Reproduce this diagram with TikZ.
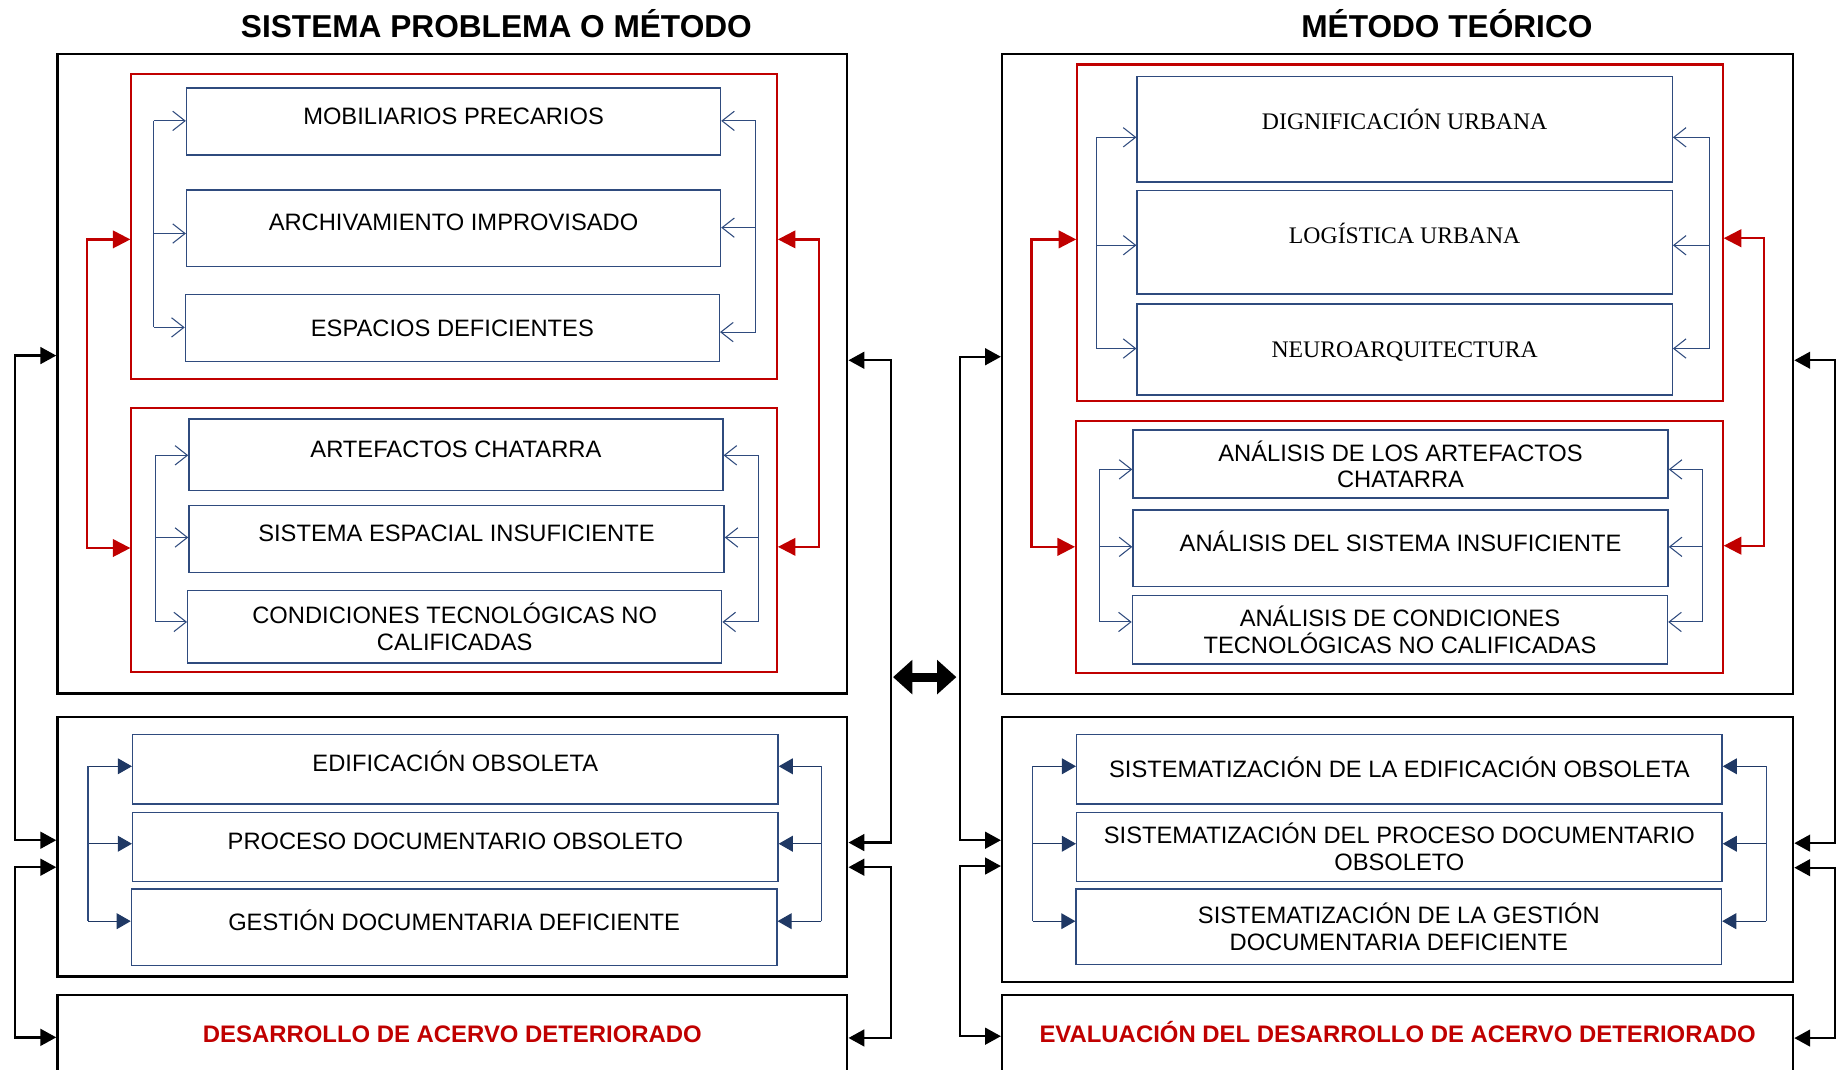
\documentclass[tikz,border=0pt]{standalone}
\usepackage{fontspec}
\setmainfont{Liberation Sans}
\newfontfamily\timesfont{Liberation Serif}
\usetikzlibrary{arrows.meta}
\definecolor{darkred}{HTML}{C00000}
\definecolor{boxblue}{HTML}{2F4B7E}
\definecolor{navyblue}{HTML}{1F3864}
\newdimen\pxu
\pxu=0.6677pt

\begin{document}
\begin{tikzpicture}[
    x=\pxu, y=-\pxu,
    title/.style={font=\fontsize{18}{20}\selectfont\bfseries, text height=12.9pt, text depth=0pt, inner sep=0pt},
    outer/.style={draw, line width=1.4pt, minimum width=673\pxu, inner sep=0pt},
    group/.style={draw=darkred, line width=1.2pt, minimum width=550\pxu, inner sep=0pt},
    box/.style={draw=boxblue, line width=0.8pt, minimum width=455\pxu, inner sep=2pt,
      font=\fontsize{13.5}{15}\selectfont},
    one/.style={text height=9.7pt, text depth=0pt},
    up/.style={text height=9.7pt, text depth=6.6pt},
    two/.style={align=center},
    serif/.style={font=\timesfont\fontsize{13.5}{15}\selectfont, text height=8.9pt},
    fb/.style={draw=boxblue, line width=0.6pt, -{Straight Barb[length=7pt,width=11pt]}},
    fbline/.style={draw=boxblue, line width=0.6pt},
    fbfill/.style={draw=navyblue, line width=0.6pt, -{Triangle[length=8pt,width=9pt]}},
    redarr/.style={draw=darkred, line width=1.3pt, {Triangle[length=10pt,width=10pt]}-{Triangle[length=10pt,width=10pt]}},
    blkarr/.style={draw, line width=1.3pt, {Triangle[length=9pt,width=9.5pt]}-{Triangle[length=9pt,width=9.5pt]}},
    bigarr/.style={line width=5pt, {Triangle[length=11pt,width=19pt]}-{Triangle[length=11pt,width=19pt]}},
    redtext/.style={font=\fontsize{13.6}{15}\selectfont\bfseries, text=darkred, text height=9.7pt, text depth=0pt}
  ]
  \useasboundingbox (0,0) rectangle (1568,911);
  \clip (0,0) rectangle (1568,911);

  \node[title] (tA) at (423,22) {SISTEMA PROBLEMA O MÉTODO};
  \node[outer, minimum height=545\pxu] (oA1) at (385.5,318.5) {};
  \node[group, minimum height=260\pxu] (gA1) at (387,193) {};
  \node[box, up, minimum height=57\pxu] (m1) at (386.5,103.5) {MOBILIARIOS PRECARIOS};
  \node[box, up, minimum height=65\pxu] (m2) at (386.5,194.5) {ARCHIVAMIENTO IMPROVISADO};
  \node[box, one, minimum height=57\pxu] (m3) at (385.5,279.5) {ESPACIOS DEFICIENTES};
  \node[group, minimum height=225\pxu] (gA2) at (387,460.5) {};
  \node[box, up, minimum height=61\pxu] (m4) at (388.5,387.5) {ARTEFACTOS CHATARRA};
  \node[box, up, minimum width=456\pxu, minimum height=57\pxu] (m5) at (389,459.5) {SISTEMA ESPACIAL INSUFICIENTE};
  \node[box, two, minimum height=62\pxu] (m6) at (387.5,534) {CONDICIONES TECNOLÓGICAS NO\\CALIFICADAS};
  \node[outer, minimum height=221\pxu] (oA2) at (385.5,721.5) {};
  \node[box, up, minimum width=550\pxu, minimum height=59\pxu] (m7) at (388,655.5) {EDIFICACIÓN OBSOLETA};
  \node[box, up, minimum width=550\pxu, minimum height=58.5\pxu] (m8) at (388,721.75) {PROCESO DOCUMENTARIO OBSOLETO};
  \node[box, up, minimum width=550\pxu, minimum height=65.4\pxu] (m9) at (387,790.3) {GESTIÓN DOCUMENTARIA DEFICIENTE};
  \node[outer, redtext, minimum height=66\pxu] (oA3) at (385.5,881) {DESARROLLO DE ACERVO DETERIORADO};

  \node[title] (tB) at (1233,22) {MÉTODO TEÓRICO};
  \node[outer, minimum width=674\pxu, minimum height=545.5\pxu] (oB1) at (1191,318.75) {};
  \node[group, minimum height=287\pxu] (gB1) at (1193,198.5) {};
  \node[box, serif, minimum width=456\pxu, text depth=8pt, minimum height=90\pxu] (n1) at (1197,110) {DIGNIFICACIÓN URBANA};
  \node[box, serif, minimum width=456\pxu, text depth=7.3pt, minimum height=88\pxu] (n2) at (1197,206.5) {LOGÍSTICA URBANA};
  \node[box, serif, minimum width=456\pxu, text depth=0pt, minimum height=77.7\pxu] (n3) at (1197,297.85) {NEUROARQUITECTURA};
  \node[group, minimum width=551\pxu, minimum height=214.5\pxu] (gB2) at (1192.5,466.25) {};
  \node[box, two, minimum width=456\pxu, minimum height=58\pxu] (a1) at (1193.5,395.5) {ANÁLISIS DE LOS ARTEFACTOS\\CHATARRA};
  \node[box, up, minimum width=456\pxu, minimum height=65.3\pxu] (a2) at (1193.5,467.35) {ANÁLISIS DEL SISTEMA INSUFICIENTE};
  \node[box, two, minimum width=456\pxu, minimum height=58.4\pxu] (a3) at (1193,536.8) {ANÁLISIS DE CONDICIONES\\TECNOLÓGICAS NO CALIFICADAS};
  \node[outer, minimum width=674\pxu, minimum height=225.6\pxu] (oB2) at (1191,723.8) {};
  \node[box, one, minimum width=550\pxu, minimum height=59\pxu] (s1) at (1192.5,655.5) {SISTEMATIZACIÓN DE LA EDIFICACIÓN OBSOLETA};
  \node[box, two, minimum width=550\pxu, minimum height=58.5\pxu] (s2) at (1192.5,721.75) {SISTEMATIZACIÓN DEL PROCESO DOCUMENTARIO\\OBSOLETO};
  \node[box, two, minimum width=550\pxu, minimum height=64.4\pxu] (s3) at (1192,789.8) {SISTEMATIZACIÓN DE LA GESTIÓN\\DOCUMENTARIA DEFICIENTE};
  \node[outer, redtext, minimum width=674\pxu, minimum height=66\pxu] (oB3) at (1191,881) {EVALUACIÓN DEL DESARROLLO DE ACERVO DETERIORADO};

  \foreach \n/\yl/\yr in {m1/103/103, m2/199/194, m3/279/283}{
    \draw[fb] (131,\yl) -- (\n.west |- 0,\yl);
    \draw[fb] (644,\yr) -- (\n.east |- 0,\yr);
  }
  \draw[fbline] (131,103) -- (131,279) (644,103) -- (644,283);
  \foreach \n/\yy in {m4/388, m5/458, m6/530}{
    \draw[fb] (132.5,\yy) -- (\n.west |- 0,\yy);
    \draw[fb] (646,\yy) -- (\n.east |- 0,\yy);
  }
  \draw[fbline] (132.5,388) -- (132.5,530) (646,388) -- (646,530);
  \foreach \n/\yy in {m7/653, m8/719, m9/785}{
    \draw[fbfill] (75,\yy) -- (\n.west |- 0,\yy);
    \draw[fbfill] (700,\yy) -- (\n.east |- 0,\yy);
  }
  \draw[fbline] (75,653) -- (75,785) (700,653) -- (700,785);

  \foreach \n/\yy in {n1/117, n2/209, n3/297}{
    \draw[fb] (934,\yy) -- (\n.west |- 0,\yy);
    \draw[fb] (1457,\yy) -- (\n.east |- 0,\yy);
  }
  \draw[fbline] (934,117) -- (934,297) (1457,117) -- (1457,297);
  \foreach \n/\yy in {a1/400, a2/466, a3/530}{
    \draw[fb] (936.6,\yy) -- (\n.west |- 0,\yy);
    \draw[fb] (1450.5,\yy) -- (\n.east |- 0,\yy);
  }
  \draw[fbline] (936.6,400) -- (936.6,530) (1450.5,400) -- (1450.5,530);
  \foreach \n/\yy in {s1/653, s2/719, s3/785}{
    \draw[fbfill] (880,\yy) -- (\n.west |- 0,\yy);
    \draw[fbfill] (1505,\yy) -- (\n.east |- 0,\yy);
  }
  \draw[fbline] (880,653) -- (880,785) (1505,653) -- (1505,785);

  \draw[redarr] (gA1.west |- 0,204) -- (74,204) -- (74,467) -- (gA2.west |- 0,467);
  \draw[redarr] (gA1.east |- 0,204) -- (698,204) -- (698,466) -- (gA2.east |- 0,466);
  \draw[redarr] (gB1.west |- 0,204) -- (879,204) -- (879,466) -- (gB2.west |- 0,466);
  \draw[redarr] (gB1.east |- 0,203) -- (1503,203) -- (1503,465) -- (gB2.east |- 0,465);

  \draw[blkarr] (oA1.west |- 0,303) -- (13,303) -- (13,716) -- (oA2.west |- 0,716);
  \draw[blkarr] (oA2.west |- 0,739) -- (13,739) -- (13,884) -- (oA3.west |- 0,884);
  \draw[blkarr] (oA1.east |- 0,307) -- (759,307) -- (759,718) -- (oA2.east |- 0,718);
  \draw[blkarr] (oA2.east |- 0,739) -- (759,739) -- (759,884.5) -- (oA3.east |- 0,884.5);
  \draw[blkarr] (oB1.west |- 0,304) -- (818,304) -- (818,716) -- (oB2.west |- 0,716);
  \draw[blkarr] (oB2.west |- 0,738) -- (818,738) -- (818,883) -- (oB3.west |- 0,883);
  \draw[blkarr] (oB1.east |- 0,307) -- (1564,307) -- (1564,718.5) -- (oB2.east |- 0,718.5);
  \draw[blkarr] (oB2.east |- 0,739.4) -- (1564,739.4) -- (1564,884.6) -- (oB3.east |- 0,884.6);

  \coordinate (dL) at (761,577);
  \coordinate (dR) at (815,577);
  \draw[bigarr] (dL) -- (dR);
\end{tikzpicture}
\end{document}
